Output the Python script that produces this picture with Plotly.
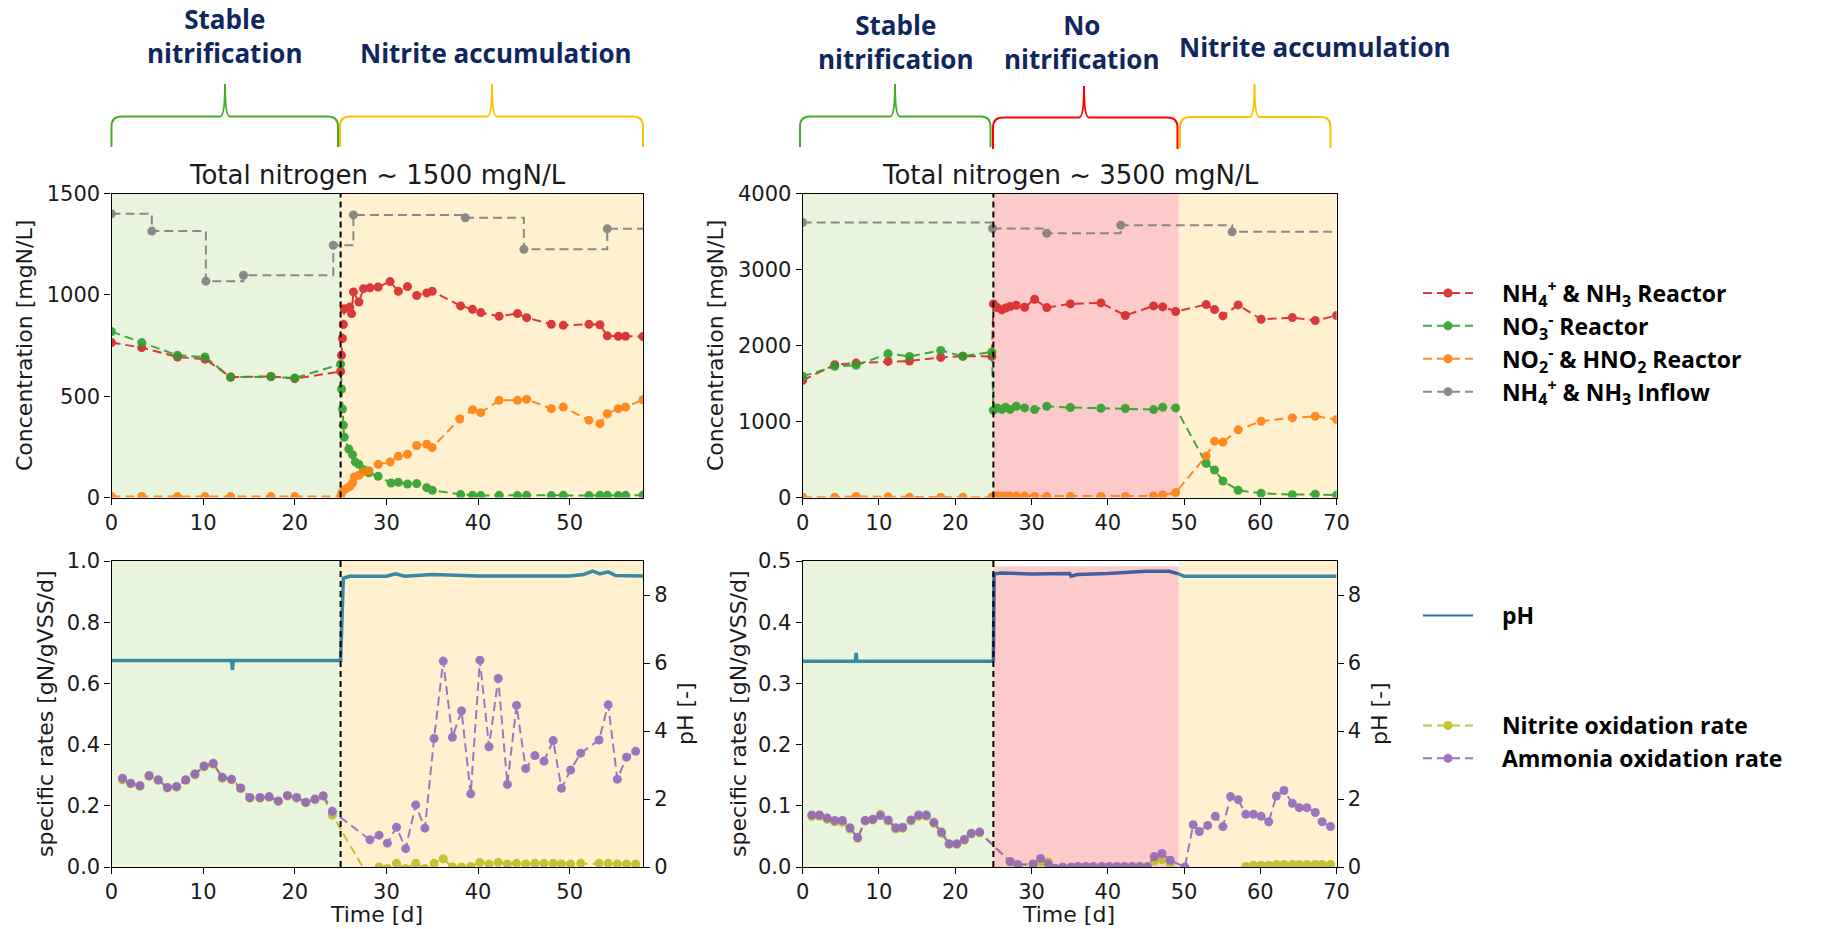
import plotly.graph_objects as go

W, H = 1840, 929

# ---------------- DATA ----------------
# Left experiment (Total nitrogen ~ 1500 mgN/L)
L_inflow_t = [0, 4.4, 10.3, 14.4, 24.2, 26.4, 38.6, 45.0, 54.1, 59.5]
L_inflow_v = [1400, 1315, 1068, 1097, 1245, 1395, 1381, 1225, 1326, 1326]

L_nh4_t = [0, 3.3, 7.2, 10.2, 13.0, 17.4, 20.0, 25.0, 25.1, 25.2, 25.3, 25.4, 26.0, 26.2, 26.4, 27.0,
           27.5, 28.2, 29.1, 30.4, 31.3, 32.3, 33.3, 34.4, 35.0, 38.1, 39.4, 40.3, 42.3, 44.3, 45.3,
           48.0, 49.3, 52.1, 53.3, 54.1, 55.3, 56.1, 58.0]
L_nh4_v = [765, 740, 694, 683, 595, 598, 587, 622, 702, 785, 854, 932, 940, 908, 1015, 965,
           1031, 1035, 1039, 1066, 1018, 1041, 997, 1010, 1018, 946, 929, 913, 895, 908, 888,
           855, 850, 855, 853, 798, 796, 796, 795]

L_no3_t = [0, 3.3, 7.2, 10.2, 13.0, 17.4, 20.0, 25.0, 25.1, 25.2, 25.3, 25.4, 25.9, 26.3, 26.6, 27.0,
           27.5, 28.1, 29.1, 30.5, 31.3, 32.3, 33.3, 34.4, 35.0, 38.1, 39.4, 40.3, 42.3, 44.3, 45.3,
           48.0, 49.3, 52.1, 53.3, 54.1, 55.3, 56.1, 58.0]
L_no3_v = [819, 765, 702, 694, 594, 596, 590, 658, 536, 437, 357, 298, 240, 212, 176, 164,
           138, 122, 105, 72, 76, 67, 69, 49, 36, 15, 11, 10, 11, 10, 11,
           10, 11, 10, 11, 11, 10, 11, 12]

L_no2_t = [0, 3.3, 7.2, 10.2, 13.0, 17.4, 20.0, 25.0, 25.1, 25.3, 25.6, 26.0, 26.3, 26.5, 27.0,
           27.5, 28.1, 29.1, 30.4, 31.3, 32.3, 33.3, 34.4, 35.0, 38.0, 39.4, 40.3, 42.3, 44.3, 45.3,
           48.0, 49.3, 52.1, 53.3, 54.1, 55.3, 56.1, 58.0]
L_no2_v = [5, 6, 5, 5, 5, 5, 5, 5, 20, 35, 44, 55, 72, 102, 110,
           128, 132, 164, 176, 204, 214, 257, 263, 247, 388, 434, 419, 480, 480, 485,
           439, 447, 382, 365, 414, 439, 447, 483]

L_ph_t = [0, 5, 10, 13.1, 13.2, 13.3, 20, 25.0, 25.3, 26, 30, 31, 32, 35, 40, 45, 50, 51.5, 52.5, 53.3, 54.2, 55, 58]
L_ph_v = [6.07, 6.08, 6.07, 6.07, 5.8, 6.07, 6.08, 6.07, 8.5, 8.55, 8.55, 8.62, 8.55, 8.6, 8.56, 8.57,
          8.56, 8.6, 8.7, 8.62, 8.68, 8.57, 8.56]

L_rate_t = [1.2, 2.1, 3.1, 4.1, 5.1, 6.1, 7.1, 8.1, 9.1, 10.1, 11.1, 12.1, 13.1, 14.1, 15.1, 16.2,
            17.2, 18.2, 19.2, 20.2, 21.2, 22.2, 23.1, 24.1, 28.2, 29.2, 30.1, 31.1, 32.1, 33.2, 34.2,
            35.2, 36.2, 37.2, 38.2, 39.2, 40.2, 41.2, 42.2, 43.2, 44.2, 45.2, 46.2, 47.2, 48.2, 49.1,
            50.1, 51.2, 53.2, 54.2, 55.2, 56.2, 57.2]
L_amo_v = [0.290, 0.274, 0.266, 0.299, 0.285, 0.260, 0.263, 0.285, 0.304, 0.330, 0.339, 0.293, 0.287,
           0.258, 0.227, 0.227, 0.230, 0.216, 0.234, 0.227, 0.212, 0.222, 0.233, 0.182, 0.089, 0.104,
           0.078, 0.130, 0.060, 0.203, 0.127, 0.420, 0.673, 0.424, 0.510, 0.239, 0.676, 0.393, 0.616,
           0.270, 0.528, 0.322, 0.364, 0.346, 0.413, 0.257, 0.317, 0.372, 0.415, 0.530, 0.287, 0.359,
           0.378]
L_nob_v = [0.285, 0.272, 0.264, 0.296, 0.283, 0.258, 0.261, 0.283, 0.301, 0.327, 0.336, 0.290, 0.285,
           0.256, 0.225, 0.225, 0.228, 0.214, 0.232, 0.225, 0.210, 0.220, 0.231, 0.170, -0.04, 0.0,
           -0.005, 0.012, -0.005, 0.012, -0.005, 0.012, 0.027, 0.0, 0.0, 0.002, 0.015, 0.010, 0.015,
           0.010, 0.012, 0.010, 0.012, 0.012, 0.012, 0.010, 0.010, 0.012, 0.012, 0.012, 0.010, 0.010,
           0.010]

# Right experiment (Total nitrogen ~ 3500 mgN/L)
R_inflow_t = [0, 24.9, 32.0, 41.7, 56.3, 71.5]
R_inflow_v = [3620, 3541, 3478, 3585, 3497, 3497]

R_t = [0, 4.2, 7.0, 11.2, 14.0, 18.1, 21.0, 24.8, 25.0, 25.5, 26.1, 26.6, 27.2, 28.0, 29.1, 30.4,
       32.0, 35.1, 39.1, 42.3, 46.0, 47.2, 48.9, 52.9, 54.0, 55.1, 57.1, 60.1, 64.2, 67.2, 70.0]
R_nh4_v = [1543, 1749, 1770, 1792, 1797, 1845, 1860, 1858, 2549, 2500, 2470, 2495, 2514, 2531, 2505, 2610,
           2500, 2549, 2562, 2396, 2522, 2509, 2448, 2540, 2474, 2391, 2535, 2347, 2369, 2330, 2396]
R_no3_v = [1596, 1727, 1740, 1893, 1858, 1937, 1860, 1915, 1150, 1180, 1160, 1190, 1160, 1202, 1180, 1158,
           1202, 1185, 1176, 1172, 1158, 1189, 1180, 450, 363, 219, 96, 57, 39, 44, 31]
R_no2_v = [5, 5, 15, 10, 5, 5, 5, 5, 15, 20, 20, 20, 20, 20, 20, 15,
           15, 15, 15, 15, 20, 35, 66, 546, 743, 730, 892, 1005, 1049, 1071, 1027]

# pH, right experiment: stable phase, no-nitrification phase, nitrite-accumulation phase
R_ph_a_t = [0, 6.9, 7.0, 7.1, 24.9, 25.0]
R_ph_a_v = [6.05, 6.05, 6.3, 6.05, 6.05, 6.05]
R_ph_b_t = [25.0, 25.1, 26, 30, 35, 35.2, 36, 40, 45, 48, 49.3]
R_ph_b_v = [6.05, 8.62, 8.65, 8.62, 8.63, 8.55, 8.6, 8.63, 8.7, 8.7, 8.62]
R_ph_c_t = [49.3, 50, 55, 60, 70]
R_ph_c_v = [8.62, 8.55, 8.55, 8.55, 8.55]

R_rate_t = [1.2, 2.2, 3.2, 4.2, 5.2, 6.2, 7.2, 8.2, 9.2, 10.2, 11.2, 12.2, 13.1, 14.2, 15.2, 16.2,
            17.2, 18.2, 19.2, 20.2, 21.2, 22.1, 23.2, 27.2, 28.2, 30.2, 31.2, 32.2, 33.1, 34.1, 35.2,
            36.1, 37.1, 38.1, 39.2, 40.2, 41.2, 42.2, 43.2, 44.2, 45.2, 46.1, 47.1, 48.2, 50.1, 51.2,
            52.0, 53.1, 54.1, 55.1, 56.1, 57.1, 58.1, 59.1, 60.1, 61.1, 62.1, 63.1, 64.2, 65.1, 66.1,
            67.2, 68.1, 69.2]
R_amo_v = [0.085, 0.085, 0.080, 0.076, 0.076, 0.064, 0.048, 0.076, 0.078, 0.084, 0.077, 0.064, 0.065,
           0.077, 0.085, 0.085, 0.073, 0.057, 0.038, 0.038, 0.045, 0.055, 0.057, 0.009, 0.004, 0.005,
           0.014, 0.005, -0.002, 0.0, 0.0, 0.001, 0.001, 0.001, 0.001, 0.001, 0.001, 0.001, 0.001,
           0.001, 0.001, 0.017, 0.022, 0.011, 0.0, 0.069, 0.058, 0.068, 0.083, 0.066, 0.115, 0.110,
           0.086, 0.086, 0.083, 0.074, 0.116, 0.125, 0.104, 0.097, 0.097, 0.089, 0.074, 0.066]
R_nob_v = [0.083, 0.083, 0.078, 0.074, 0.073, 0.062, 0.047, 0.075, 0.077, 0.086, 0.075, 0.062, 0.063,
           0.075, 0.083, 0.083, 0.071, 0.055, 0.037, 0.037, 0.044, 0.054, 0.056, 0.008, 0.003, 0.004,
           0.008, 0.008, -0.003, -0.002, -0.002, -0.002, -0.002, -0.002, -0.002, -0.002, -0.002, -0.002,
           -0.002, -0.002, -0.002, 0.010, 0.012, 0.005, -0.01, -0.01, -0.01, -0.01, -0.01, -0.01, -0.01,
           -0.01, 0.001, 0.003, 0.003, 0.003, 0.004, 0.004, 0.004, 0.004, 0.004, 0.004, 0.004, 0.004]

phase_labels_left = ["Stable<br>nitrification", "Nitrite accumulation"]
phase_labels_right = ["Stable<br>nitrification", "No<br>nitrification", "Nitrite accumulation"]
titles = ["Total nitrogen ~ 1500 mgN/L", "Total nitrogen ~ 3500 mgN/L"]

# ---------------- STYLE ----------------
C_RED, C_GREEN, C_ORANGE, C_GRAY = "#d62728", "#2ca02c", "#ff7f0e", "#7f7f7f"
C_OLIVE, C_PURPLE, C_BLUE, C_PH, C_PH_PINK = "#bcbd22", "#9467bd", "#1f77b4", "#3a89a4", "#40609e"
BG_GREEN, BG_YELLOW, BG_PINK = "#e8f4dc", "#fff1cf", "#fdcaca"
NAVY = "#10265e"
TICKFONT = dict(family="DejaVu Sans", size=21, color="#1a1a1a")
DASH = "9px,5px"
NB = "\u00a0" * 4


def px(x):
    return x / W


def py(y):
    return 1 - y / H


fig = go.Figure()


def series(x, y, color, name, xa, ya, show, legend="legend", shape="linear"):
    fig.add_trace(go.Scatter(
        x=x, y=y, mode="lines+markers", name=name, legendgroup=name,
        line=dict(color=color, width=2, dash=DASH, shape=shape),
        marker=dict(color=color, size=9), opacity=0.9,
        xaxis=xa, yaxis=ya, showlegend=show, legend=legend))


def phline(x, y, color, xa, ya):
    fig.add_trace(go.Scatter(x=x, y=y, mode="lines", line=dict(color=color, width=3.5),
                             xaxis=xa, yaxis=ya, showlegend=False))


n_nh4 = NB + "<b>NH<sub>4</sub><sup>+</sup> & NH<sub>3</sub> Reactor</b>"
n_no3 = NB + "<b>NO<sub>3</sub><sup>-</sup> Reactor</b>"
n_no2 = NB + "<b>NO<sub>2</sub><sup>-</sup> & HNO<sub>2</sub> Reactor</b>"
n_inf = NB + "<b>NH<sub>4</sub><sup>+</sup> & NH<sub>3</sub> Inflow</b>"

# top-left
series(L_nh4_t, L_nh4_v, C_RED, n_nh4, "x", "y", True)
series(L_no3_t, L_no3_v, C_GREEN, n_no3, "x", "y", True)
series(L_no2_t, L_no2_v, C_ORANGE, n_no2, "x", "y", True)
series(L_inflow_t, L_inflow_v, C_GRAY, n_inf, "x", "y", True, shape="hv")
# top-right
series(R_t, R_nh4_v, C_RED, n_nh4, "x2", "y2", False)
series(R_t, R_no3_v, C_GREEN, n_no3, "x2", "y2", False)
series(R_t, R_no2_v, C_ORANGE, n_no2, "x2", "y2", False)
series(R_inflow_t, R_inflow_v, C_GRAY, n_inf, "x2", "y2", False, shape="hv")

n_nob = NB + "<b>Nitrite oxidation rate</b>"
n_amo = NB + "<b>Ammonia oxidation rate</b>"
# bottom-left
series(L_rate_t, L_nob_v, C_OLIVE, n_nob, "x3", "y3", True, legend="legend3")
series(L_rate_t, L_amo_v, C_PURPLE, n_amo, "x3", "y3", True, legend="legend3")
phline(L_ph_t, L_ph_v, C_PH, "x3", "y5")
# bottom-right
series(R_rate_t, R_nob_v, C_OLIVE, n_nob, "x4", "y4", False, legend="legend3")
series(R_rate_t, R_amo_v, C_PURPLE, n_amo, "x4", "y4", False, legend="legend3")
phline(R_ph_a_t, R_ph_a_v, C_PH, "x4", "y6")
phline(R_ph_b_t, R_ph_b_v, C_PH_PINK, "x4", "y6")
phline(R_ph_c_t, R_ph_c_v, C_PH, "x4", "y6")
# legend entry for pH
fig.add_trace(go.Scatter(x=[None], y=[None], mode="lines", name=NB + "<b>pH</b>",
                         line=dict(color=C_BLUE, width=2), xaxis="x3", yaxis="y5",
                         showlegend=True, legend="legend2"))

# ---------------- AXES ----------------
XL = [px(111.5), px(643)]
XR = [px(802.7), px(1336.6)]
YT = [py(497.6), py(193.6)]
YB = [py(867), py(561)]

base = dict(showline=True, linecolor="black", linewidth=1.2, mirror=True, ticks="outside",
            ticklen=6, tickwidth=1.2, tickcolor="black", showgrid=False, zeroline=False,
            tickfont=TICKFONT, automargin=False)

fig.update_layout(
    xaxis=dict(base, domain=XL, range=[0, 58], dtick=10, anchor="y"),
    yaxis=dict(base, domain=YT, range=[0, 1500], dtick=500, anchor="x"),
    xaxis2=dict(base, domain=XR, range=[0, 70], dtick=10, anchor="y2"),
    yaxis2=dict(base, domain=YT, range=[0, 4000], dtick=1000, anchor="x2"),
    xaxis3=dict(base, domain=XL, range=[0, 58], dtick=10, anchor="y3"),
    yaxis3=dict(base, domain=YB, range=[0, 1.0], dtick=0.2, tickformat=".1f", anchor="x3"),
    xaxis4=dict(base, domain=XR, range=[0, 70], dtick=10, anchor="y4"),
    yaxis4=dict(base, domain=YB, range=[0, 0.5], dtick=0.1, tickformat=".1f", anchor="x4"),
    yaxis5=dict(base, mirror=False, showline=False, range=[0, 9], tickvals=[0, 2, 4, 6, 8],
                overlaying="y3", side="right", anchor="x3"),
    yaxis6=dict(base, mirror=False, showline=False, range=[0, 9], tickvals=[0, 2, 4, 6, 8],
                overlaying="y4", side="right", anchor="x4"),
)

# ---------------- BACKGROUND SPANS + VLINES ----------------
shapes = []


def span(xref, yref, x0, x1, color, y1=1):
    shapes.append(dict(type="rect", xref=xref, yref=yref + " domain", x0=x0, x1=x1, y0=0, y1=y1,
                       fillcolor=color, line=dict(width=0), layer="below"))


for xr, yr in [("x", "y"), ("x3", "y3")]:
    span(xr, yr, 0, 25, BG_GREEN)
    span(xr, yr, 25, 58, BG_YELLOW)
span("x2", "y2", 0, 25, BG_GREEN)
span("x2", "y2", 25, 49.3, BG_PINK)
span("x2", "y2", 49.3, 70, BG_YELLOW)
span("x4", "y4", 0, 25, BG_GREEN)
span("x4", "y4", 25, 49.3, BG_PINK, y1=0.982)
span("x4", "y4", 49.3, 70, BG_YELLOW)
for xr, yr in [("x", "y"), ("x2", "y2"), ("x3", "y3"), ("x4", "y4")]:
    shapes.append(dict(type="line", xref=xr, yref=yr + " domain", x0=25, x1=25, y0=0, y1=1,
                       line=dict(color="black", width=2, dash="6px,4px"), layer="above"))


# ---------------- BRACES ----------------
def brace(x0, x1, xc, yline, ytip, ypeak, color):
    r = 10
    c = 5
    pts = (f"M {px(x0)},{py(ytip)} L {px(x0)},{py(yline + r)} "
           f"Q {px(x0)},{py(yline)} {px(x0 + r)},{py(yline)} "
           f"L {px(xc - c)},{py(yline)} Q {px(xc)},{py(yline)} {px(xc)},{py(ypeak)} "
           f"Q {px(xc)},{py(yline)} {px(xc + c)},{py(yline)} "
           f"L {px(x1 - r)},{py(yline)} Q {px(x1)},{py(yline)} {px(x1)},{py(yline + r)} "
           f"L {px(x1)},{py(ytip)}")
    shapes.append(dict(type="path", xref="paper", yref="paper", path=pts,
                       line=dict(color=color, width=2)))


brace(111.5, 338, 225, 116.5, 147, 84, "#4aaa2e")
brace(340, 643, 492, 116.5, 147, 84, "#ffc000")
brace(800, 990.5, 895, 116.5, 147, 84, "#4aaa2e")
brace(993, 1177.5, 1084, 117.5, 149, 86, "#ff0000")
brace(1180, 1330.5, 1254.5, 117, 148, 84, "#ffc000")

fig.update_layout(shapes=shapes)

# ---------------- ANNOTATIONS ----------------
ann = []


def text(x, y, s, size, family="DejaVu Sans", color="#1a1a1a", angle=0):
    ann.append(dict(x=px(x), y=py(y), xref="paper", yref="paper", text=s, showarrow=False,
                    xanchor="center", yanchor="middle", textangle=angle,
                    font=dict(family=family, size=size, color=color)))


PF = "Open Sans"
text(225, 36, "<b>" + phase_labels_left[0] + "</b>", 26, PF, NAVY)
text(496, 53, "<b>" + phase_labels_left[1] + "</b>", 26, PF, NAVY)
text(896, 42, "<b>" + phase_labels_right[0] + "</b>", 26, PF, NAVY)
text(1082, 42, "<b>" + phase_labels_right[1] + "</b>", 26, PF, NAVY)
text(1315, 47, "<b>" + phase_labels_right[2] + "</b>", 26, PF, NAVY)

text(377, 175, titles[0], 26)
text(1070, 175, titles[1], 26)

text(24, 346, "Concentration [mgN/L]", 22, angle=-90)
text(715, 346, "Concentration [mgN/L]", 22, angle=-90)
text(45, 714, "specific rates [gN/gVSS/d]", 22, angle=-90)
text(738, 714, "specific rates [gN/gVSS/d]", 22, angle=-90)
text(685, 714, "pH [-]", 22, angle=-90)
text(1379, 714, "pH [-]", 22, angle=-90)
text(376, 914, "Time [d]", 22)
text(1068, 914, "Time [d]", 22)

fig.update_layout(annotations=ann)

# ---------------- LEGENDS ----------------
LEGFONT = dict(family="Open Sans", size=23, color="black")
legcommon = dict(xanchor="left", yanchor="top", bgcolor="rgba(0,0,0,0)", font=LEGFONT,
                 itemwidth=50, tracegroupgap=0, itemclick=False, itemdoubleclick=False)
fig.update_layout(
    legend=dict(legcommon, x=px(1418), y=py(271.5)),
    legend2=dict(legcommon, x=px(1418), y=py(594)),
    legend3=dict(legcommon, x=px(1418), y=py(704)),
)

fig.update_layout(width=W, height=H, margin=dict(l=0, r=0, t=0, b=0, autoexpand=False),
                  paper_bgcolor="white", plot_bgcolor="white", showlegend=True)

fig.write_html("out.html", config={"displayModeBar": False},
               post_script="document.body.style.margin='0px';")
